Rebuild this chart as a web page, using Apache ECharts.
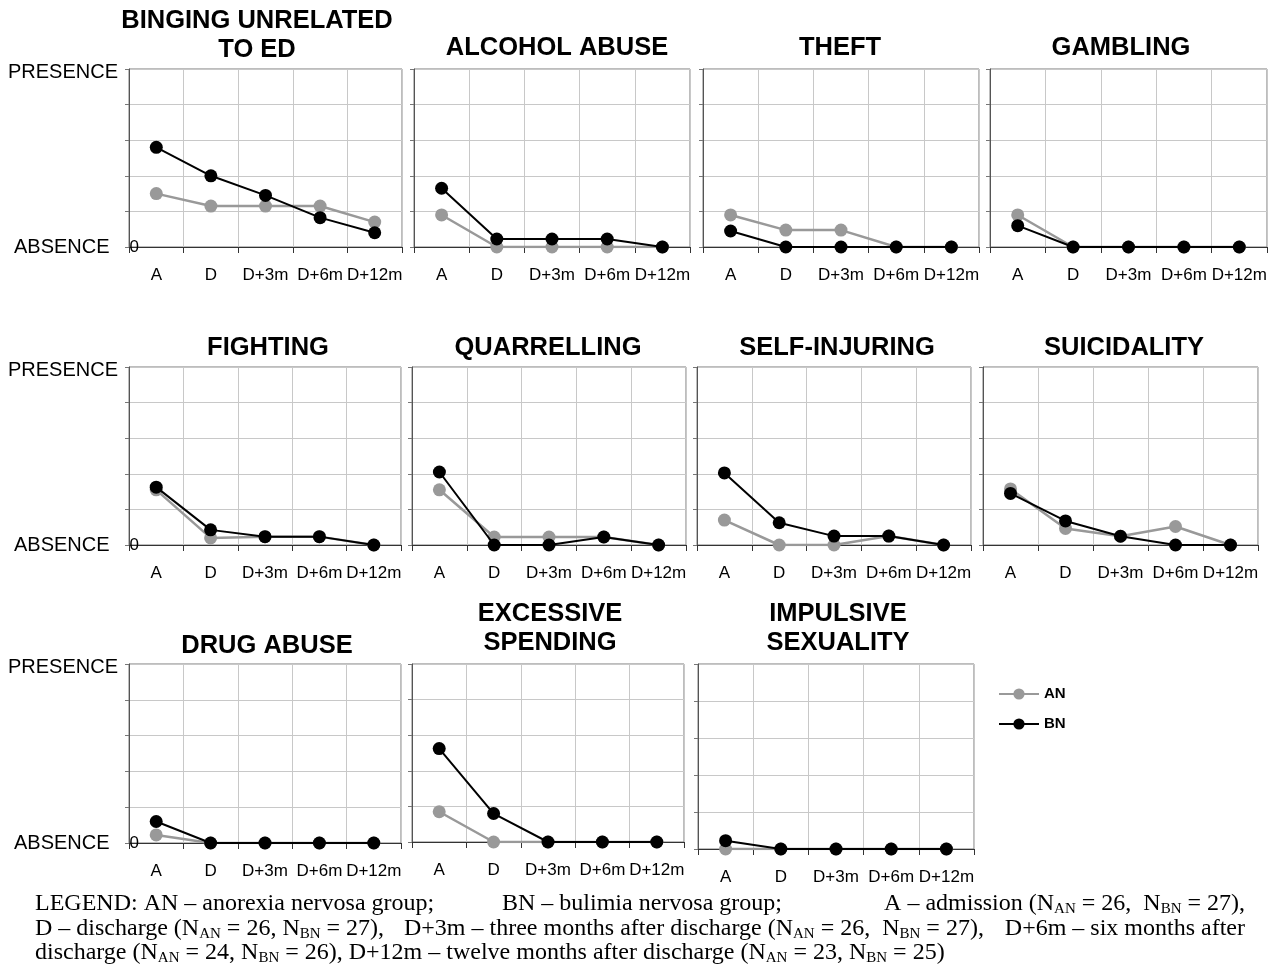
<!DOCTYPE html>
<html>
<head>
<meta charset="utf-8">
<script src="https://cdn.jsdelivr.net/npm/echarts@6/dist/echarts.min.js"></script>
<style>html,body{margin:0;padding:0;background:#fff}#c{width:1278px;height:967px}</style>
</head>
<body>
<div id="c"></div>
<script>
// ---- data ----
const categories = ['A', 'D', 'D+3m', 'D+6m', 'D+12m'];
const titles = ['BINGING UNRELATED\nTO ED', 'ALCOHOL ABUSE', 'THEFT', 'GAMBLING',
  'FIGHTING', 'QUARRELLING', 'SELF-INJURING', 'SUICIDALITY',
  'DRUG ABUSE', 'EXCESSIVE\nSPENDING', 'IMPULSIVE\nSEXUALITY'];
const seriesNames = ['AN', 'BN'];
const bingingAN = [0.30, 0.23, 0.23, 0.23, 0.14];
const bingingBN = [0.56, 0.40, 0.29, 0.165, 0.08];
const alcoholAN = [0.18, 0, 0, 0, 0];
const alcoholBN = [0.33, 0.045, 0.045, 0.045, 0];
const theftAN = [0.18, 0.095, 0.095, 0, 0];
const theftBN = [0.09, 0, 0, 0, 0];
const gamblingAN = [0.18, 0, 0, 0, 0];
const gamblingBN = [0.12, 0, 0, 0, 0];
const fightingAN = [0.31, 0.04, 0.047, 0.047, 0];
const fightingBN = [0.325, 0.085, 0.047, 0.047, 0];
const quarrellingAN = [0.31, 0.045, 0.045, 0.045, 0];
const quarrellingBN = [0.41, 0, 0, 0.045, 0];
const selfInjuringAN = [0.14, 0, 0, 0.05, 0];
const selfInjuringBN = [0.405, 0.125, 0.05, 0.05, 0];
const suicidalityAN = [0.315, 0.093, 0.049, 0.104, 0];
const suicidalityBN = [0.29, 0.135, 0.049, 0, 0];
const drugAN = [0.045, 0, 0, 0, 0];
const drugBN = [0.12, 0, 0, 0, 0];
const spendingAN = [0.17, 0, 0, 0, 0];
const spendingBN = [0.525, 0.16, 0, 0, 0];
const sexualityAN = [0, 0, 0, 0, 0];
const sexualityBN = [0.045, 0, 0, 0, 0];
const yTicks = { min: 0, max: 1, interval: 0.2 };
const yEndLabels = ['ABSENCE', 'PRESENCE'];

const anData = [bingingAN, alcoholAN, theftAN, gamblingAN, fightingAN, quarrellingAN,
  selfInjuringAN, suicidalityAN, drugAN, spendingAN, sexualityAN];
const bnData = [bingingBN, alcoholBN, theftBN, gamblingBN, fightingBN, quarrellingBN,
  selfInjuringBN, suicidalityBN, drugBN, spendingBN, sexualityBN];

// ---- layout ----
const grids = [
  [129, 69, 273, 178], [414, 69, 276, 178], [703, 69, 276, 178], [990, 69, 277, 178],
  [129, 367, 272, 178], [412, 367, 274, 178], [697, 367, 274, 178], [983, 367, 275, 178],
  [129, 664, 272, 179], [412, 664, 272, 178], [698, 664, 276, 185]
];
const titlePos = [
  [257, 6], [557, 33], [840, 33], [1121, 33],
  [268, 333], [548, 333], [837, 333], [1124, 333],
  [267, 631], [550, 599], [838, 599]
];
const leftCol = [0, 4, 8];
const SANS = 'Liberation Sans, Arial, sans-serif';
const SERIF = 'Liberation Serif, Times New Roman, serif';

const option = {
  backgroundColor: '#fff',
  animation: false,
  title: titles.map((t, i) => ({
    text: t, left: titlePos[i][0], top: titlePos[i][1], textAlign: 'center', padding: 0,
    textStyle: { fontFamily: SANS, fontWeight: 'bold', fontSize: 25.5, lineHeight: 29, color: '#000' }
  })),
  legend: {
    data: seriesNames, orient: 'vertical', left: 993, top: 680, itemWidth: 40, itemHeight: 14, itemGap: 12,
    textStyle: { fontFamily: SANS, fontWeight: 'bold', fontSize: 15, color: '#000', lineHeight: 18 }
  },
  grid: grids.map(g => ({
    left: g[0], top: g[1], width: g[2], height: g[3], show: true,
    borderColor: '#7a7a7a', borderWidth: 1, containLabel: false
  })),
  xAxis: grids.map((g, i) => ({
    type: 'category', gridIndex: i, data: categories, boundaryGap: true,
    axisLine: { show: true, lineStyle: { color: '#333', width: 1 } },
    axisTick: { show: true, length: 6, lineStyle: { color: '#333' } },
    axisLabel: { interval: 0, margin: 20, fontSize: 17, fontFamily: SANS, color: '#000' },
    splitLine: { show: true, lineStyle: { color: '#c8c8c8', width: 1 } }
  })),
  yAxis: grids.map((g, i) => ({
    type: 'value', gridIndex: i, min: yTicks.min, max: yTicks.max, interval: yTicks.interval,
    axisLine: { show: true, lineStyle: { color: '#555' } },
    axisTick: { show: true, length: 4, lineStyle: { color: '#777' } },
    splitLine: { show: true, lineStyle: { color: '#c8c8c8', width: 1 } },
    axisLabel: {
      show: leftCol.includes(i), margin: -10, showMaxLabel: true, showMinLabel: true,
      fontFamily: SANS, fontSize: 20, color: '#000',
      formatter: v => v === yTicks.min ? '{a|' + yEndLabels[0] + '}{b|0}' : (v === yTicks.max ? '{p|' + yEndLabels[1] + '}' : ''),
      rich: {
        a: { fontFamily: SANS, fontSize: 20, color: '#000', padding: [0, 20, 0, 0] },
        p: { fontFamily: SANS, fontSize: 20, color: '#000', padding: [7, 21, 0, 0] },
        b: { fontFamily: SANS, fontSize: 17, color: '#000' }
      }
    }
  })),
  series: [],
  graphic: []
};

anData.forEach((d, i) => {
  option.series.push({
    type: 'line', name: seriesNames[0], xAxisIndex: i, yAxisIndex: i, data: d,
    symbol: 'circle', symbolSize: 13, z: 2,
    lineStyle: { color: '#999999', width: 2.5 }, itemStyle: { color: '#999999' }
  });
});
bnData.forEach((d, i) => {
  option.series.push({
    type: 'line', name: seriesNames[1], xAxisIndex: i, yAxisIndex: i, data: d,
    symbol: 'circle', symbolSize: 13, z: 3,
    lineStyle: { color: '#000000', width: 2 }, itemStyle: { color: '#000000' }
  });
});

// bottom legend text
const rich = {
  n: { fontFamily: SERIF, fontSize: 24, color: '#000' },
  s: { fontFamily: SERIF, fontSize: 15, color: '#000', padding: [11, 0, 0, 0] }
};
function seg(x, y, text, align) {
  option.graphic.push({
    type: 'text', x: x, y: y,
    style: { text: text, rich: rich, fill: '#000', font: '24px ' + SERIF, align: align || 'left', verticalAlign: 'middle' }
  });
}
const N = (sub) => '{n|N}{s|' + sub + '}';
seg(35, 904, '{n|LEGEND: AN – anorexia nervosa group;}');
seg(502, 904, '{n|BN – bulimia nervosa group;}');
seg(1245, 904, '{n|A – admission (}' + N('AN') + '{n| = 26,  }' + N('BN') + '{n| = 27),}', 'right');
seg(35, 929, '{n|D – discharge (}' + N('AN') + '{n| = 26, }' + N('BN') + '{n| = 27),}');
seg(404, 929, '{n|D+3m – three months after discharge (}' + N('AN') + '{n| = 26,  }' + N('BN') + '{n| = 27),}');
seg(1245, 929, '{n|D+6m – six months after}', 'right');
seg(35, 953, '{n|discharge (}' + N('AN') + '{n| = 24, }' + N('BN') + '{n| = 26), D+12m – twelve months after discharge (}' + N('AN') + '{n| = 23, }' + N('BN') + '{n| = 25)}');

const chart = echarts.init(document.getElementById('c'), null, { renderer: 'canvas' });
chart.setOption(option);
</script>
</body>
</html>
